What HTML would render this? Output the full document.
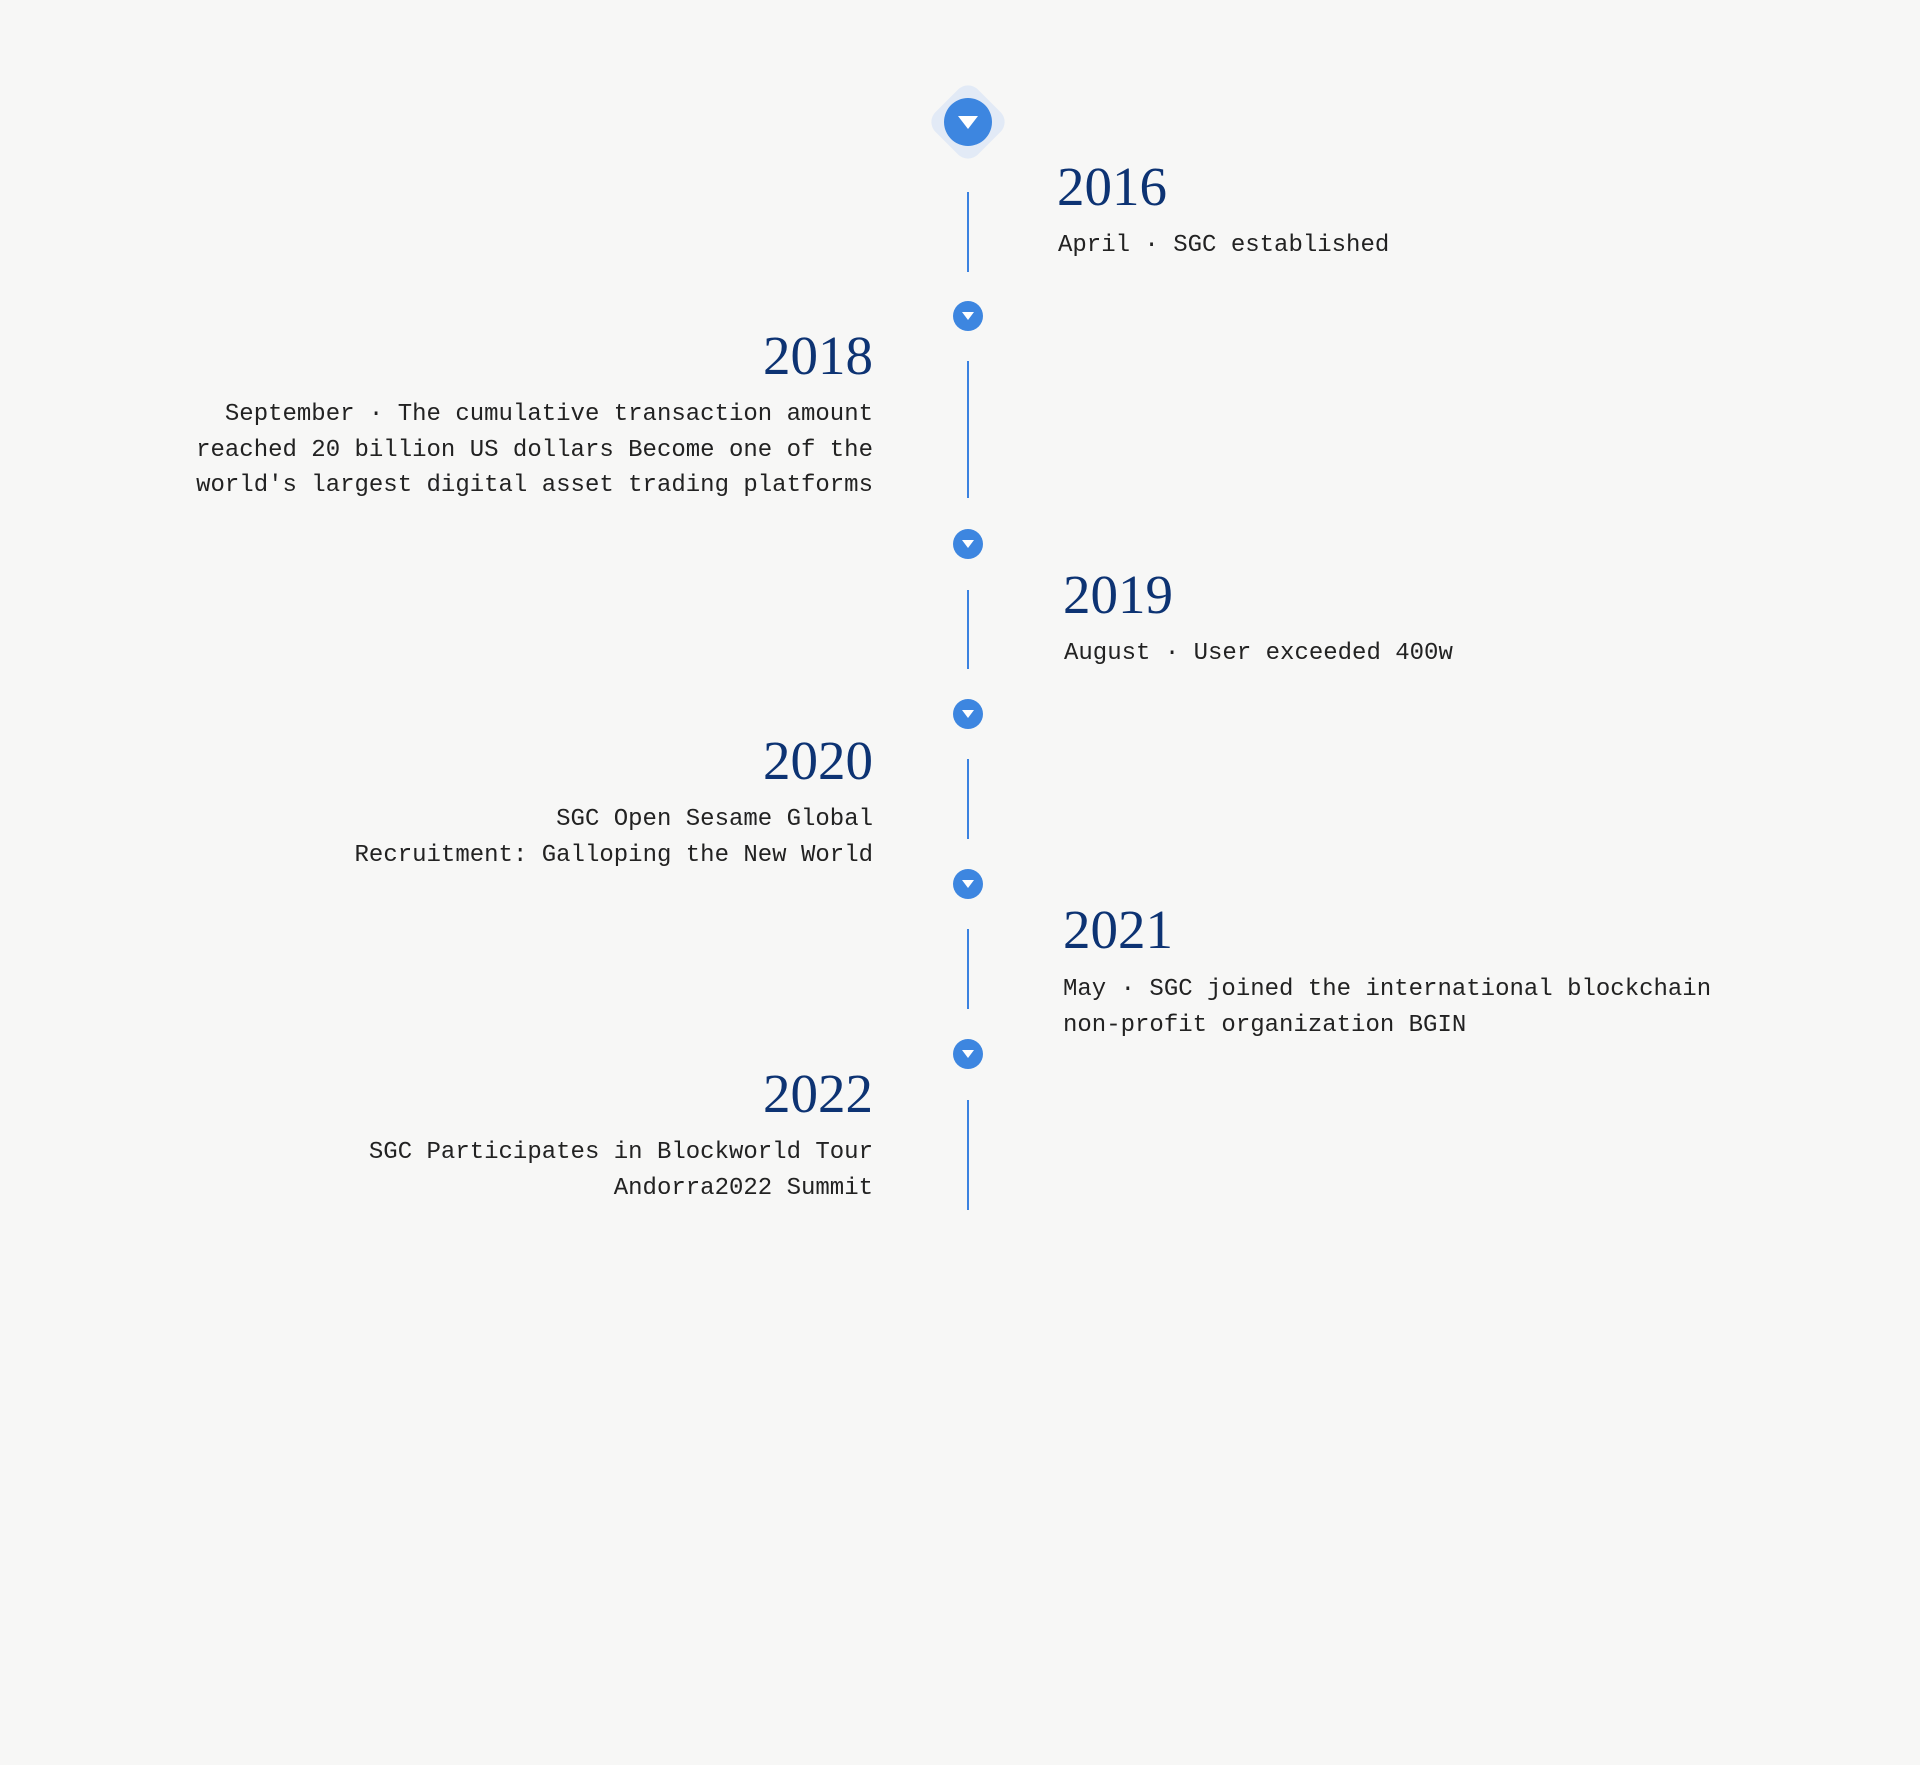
<!DOCTYPE html>
<html><head><meta charset="utf-8"><style>
html,body{margin:0;padding:0}
body{width:1920px;height:1765px;background:#f7f7f6;position:relative;overflow:hidden;font-family:"Liberation Mono",monospace}
.year{position:absolute;font-family:"Liberation Serif",serif;font-size:55px;line-height:55px;color:#0d3373;white-space:nowrap}
.txt{position:absolute;font-size:24px;line-height:35.5px;color:#222;white-space:nowrap}
.r{text-align:right;right:1047px}
.l{left:1060px}
.line{position:absolute;left:967px;width:2px;background:#3b82e0}
.dot{position:absolute;left:953px;width:30px;height:30px;border-radius:50%;background:#3d86e0}
.dot::after{content:"";position:absolute;left:9px;top:11px;border-left:6px solid transparent;border-right:6px solid transparent;border-top:8px solid #fff}
</style></head><body>
<div style="position:absolute;left:938px;top:92px;width:60px;height:60px;transform:rotate(45deg);border-radius:14px;background:#e2eaf6"></div>
<div style="position:absolute;left:944px;top:98px;width:48px;height:48px;border-radius:50%;background:#3d86e0"><div style="position:absolute;left:14px;top:18px;border-left:10px solid transparent;border-right:10px solid transparent;border-top:13px solid #fff"></div></div>

<div class="line" style="top:192px;height:80px"></div>
<div class="year" style="left:1057px;top:159px">2016</div>
<div class="txt l" style="left:1058px;top:228px">April · SGC established</div>

<div class="dot" style="top:301px"></div>
<div class="year r" style="top:328px">2018</div>
<div class="txt r" style="top:397px">September · The cumulative transaction amount<br>reached 20 billion US dollars Become one of the<br>world's largest digital asset trading platforms</div>
<div class="line" style="top:361px;height:137px"></div>

<div class="dot" style="top:529px"></div>
<div class="line" style="top:590px;height:79px"></div>
<div class="year l" style="left:1063px;top:567px">2019</div>
<div class="txt l" style="left:1064px;top:636px">August · User exceeded 400w</div>

<div class="dot" style="top:699px"></div>
<div class="year r" style="top:733px">2020</div>
<div class="txt r" style="top:802px">SGC Open Sesame Global<br>Recruitment: Galloping the New World</div>
<div class="line" style="top:759px;height:80px"></div>

<div class="dot" style="top:869px"></div>
<div class="line" style="top:929px;height:80px"></div>
<div class="year l" style="left:1063px;top:902px">2021</div>
<div class="txt l" style="left:1063px;top:972px">May · SGC joined the international blockchain<br>non-profit organization BGIN</div>

<div class="dot" style="top:1039px"></div>
<div class="year r" style="top:1066px">2022</div>
<div class="txt r" style="top:1135px">SGC Participates in Blockworld Tour<br>Andorra2022 Summit</div>
<div class="line" style="top:1100px;height:110px"></div>
</body></html>
